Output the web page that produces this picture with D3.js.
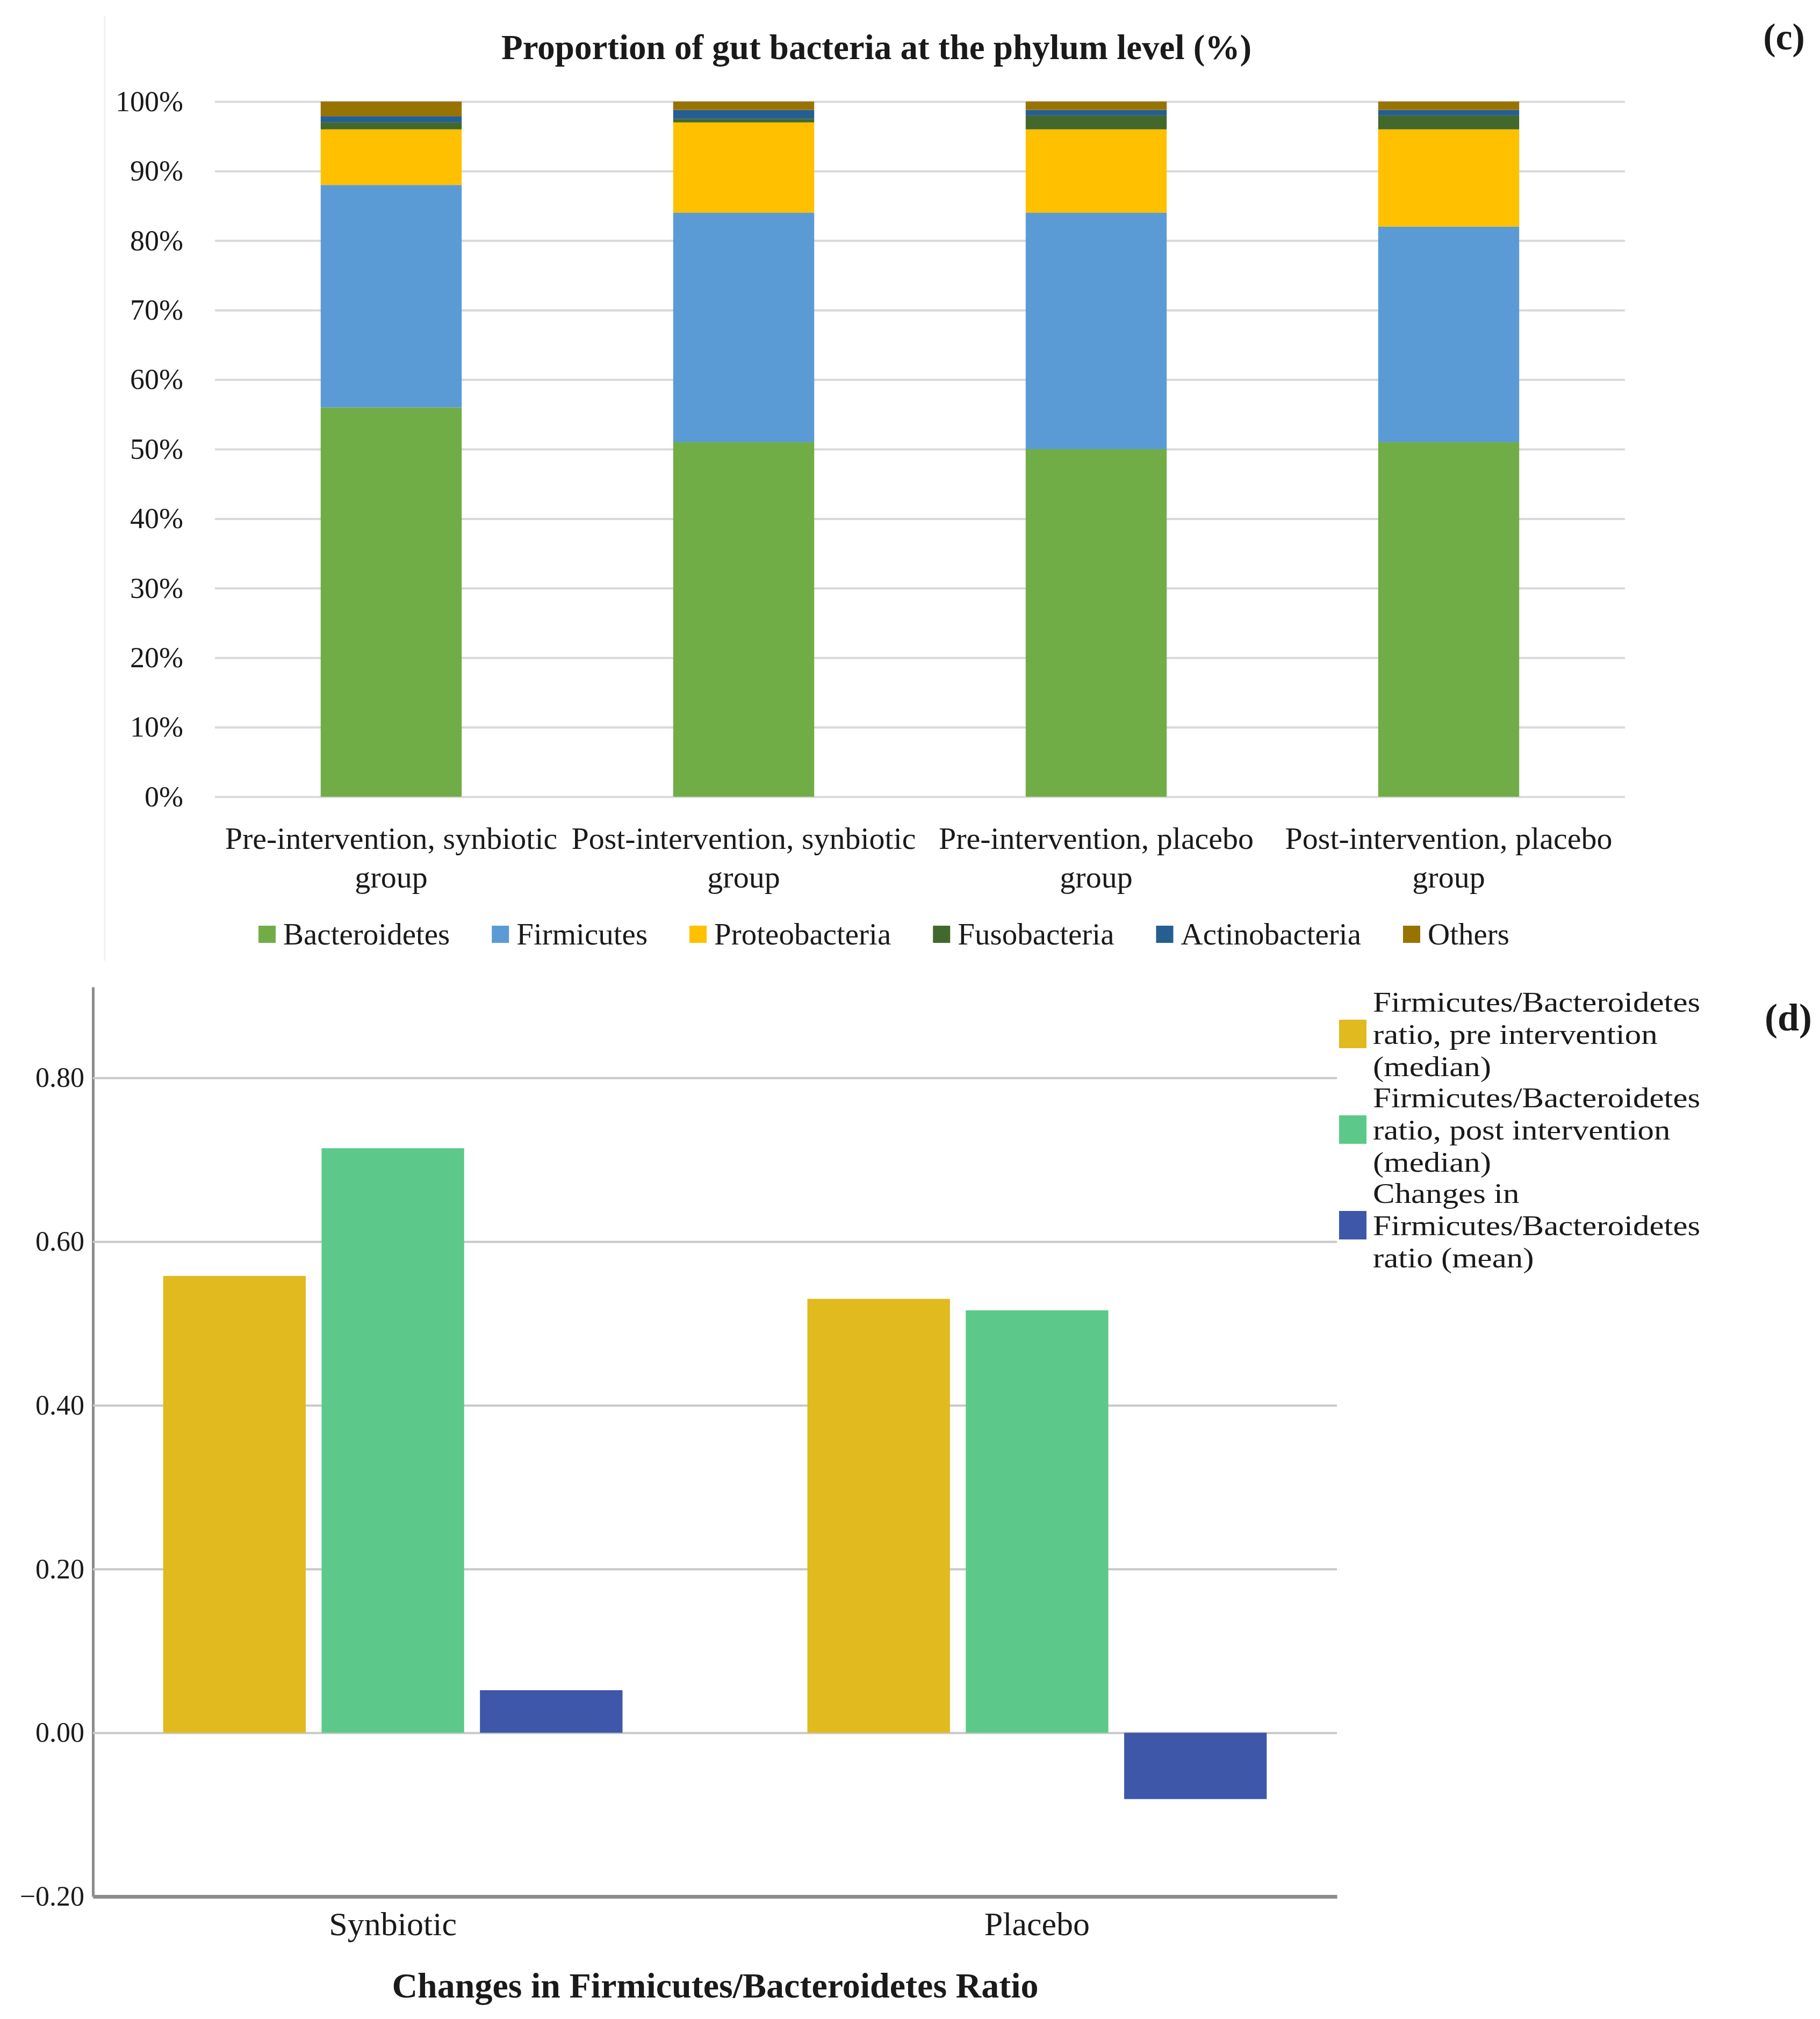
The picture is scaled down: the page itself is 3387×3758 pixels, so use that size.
<!DOCTYPE html>
<meta charset="utf-8">
<style>
body { margin: 0; background: #fff; }
text { font-family: "Liberation Serif", "Times New Roman", serif; fill: #1a1a1a; }
.grid line { stroke: #d9d9d9; stroke-width: 4; }
.grid path { display: none; }
.axis2 .tick line { stroke: #c8c8c8; stroke-width: 4; }
.axis2 path { stroke: #8c8c8c; stroke-width: 5; }
</style>
<svg></svg>
<script src="https://cdn.jsdelivr.net/npm/d3@7"></script>
<script>
// ---- panel (c) data
var groups = ["Pre-intervention, synbiotic group", "Post-intervention, synbiotic group",
              "Pre-intervention, placebo group", "Post-intervention, placebo group"];
var phyla = ["Bacteroidetes", "Firmicutes", "Proteobacteria", "Fusobacteria", "Actinobacteria", "Others"];
var bacteroidetes  = [56, 51, 50, 51];
var firmicutes     = [32, 33, 34, 31];
var proteobacteria = [8, 13, 12, 14];
var fusobacteria   = [1.0, 0.5, 2.0, 2.0];
var actinobacteria = [0.9, 1.3, 0.8, 0.8];
var others         = [2.1, 1.2, 1.2, 1.2];
var percentTicks   = [0, 10, 20, 30, 40, 50, 60, 70, 80, 90, 100];

// ---- panel (d) data
var ratioGroups = ["Synbiotic", "Placebo"];
var ratioSeries = [
  ["Firmicutes/Bacteroidetes", "ratio, pre intervention", "(median)"],
  ["Firmicutes/Bacteroidetes", "ratio, post intervention", "(median)"],
  ["Changes in", "Firmicutes/Bacteroidetes", "ratio (mean)"]
];
var preMedian  = [0.558, 0.530];
var postMedian = [0.714, 0.516];
var meanChange = [0.052, -0.081];
var ratioTicks = [-0.2, 0, 0.2, 0.4, 0.6, 0.8];

var phylaColors = ["#70ad47", "#5b9bd5", "#ffc000", "#43682b", "#255e91", "#997300"];
var ratioColors = ["#e0ba1e", "#5cc98a", "#3e57a9"];

var W = 3387, H = 3758;
var svg = d3.select("svg").attr("width", W).attr("height", H);

// ================= (c) stacked percent bars
var phylaValues = [bacteroidetes, firmicutes, proteobacteria, fusobacteria, actinobacteria, others];
var rows = groups.map(function(g, i) {
  var r = {group: g};
  phyla.forEach(function(p, j) { r[p] = phylaValues[j][i]; });
  return r;
});
var stacked = d3.stack().keys(phyla)(rows);

var c = {left: 400, right: 3024, top: 189, bottom: 1483};
var x = d3.scaleBand().domain(groups).range([c.left, c.right]).paddingInner(0.6).paddingOuter(0.3);
var y = d3.scaleLinear().domain([0, 100]).range([c.bottom, c.top]);

// faint chart-area edge
svg.append("line").attr("x1", 195).attr("x2", 195).attr("y1", 30).attr("y2", 1788)
    .attr("stroke", "#f0f0f0").attr("stroke-width", 3);

svg.append("g")
    .attr("class", "grid")
    .attr("transform", "translate(" + c.left + ",0)")
    .call(d3.axisLeft(y).tickValues(percentTicks).tickFormat(function(d) { return d + "%"; })
      .tickSize(-(c.right - c.left)).tickPadding(59))
    .selectAll("text").style("font-size", "54px").style("font-family", "Liberation Serif");

svg.append("g").selectAll("g")
  .data(stacked)
  .enter().append("g")
    .attr("fill", function(d, i) { return phylaColors[i]; })
  .selectAll("rect")
  .data(function(d) { return d; })
  .enter().append("rect")
    .attr("x", function(d) { return x(d.data.group); })
    .attr("y", function(d) { return y(d[1]); })
    .attr("width", x.bandwidth())
    .attr("height", function(d) { return y(d[0]) - y(d[1]); });

var catLabels = svg.append("g").selectAll("text")
  .data(groups)
  .enter().append("text")
    .attr("text-anchor", "middle")
    .style("font-size", "58px");
catLabels.each(function(g) {
  var cut = g.lastIndexOf(" ");
  var t = d3.select(this);
  var cx = x(g) + x.bandwidth() / 2;
  t.append("tspan").attr("x", cx).attr("y", 1580).text(g.slice(0, cut));
  t.append("tspan").attr("x", cx).attr("y", 1652).text(g.slice(cut + 1));
});

svg.append("text")
    .attr("x", 1631).attr("y", 110)
    .attr("text-anchor", "middle")
    .style("font-size", "65px").style("font-weight", "bold")
    .text("Proportion of gut bacteria at the phylum level (%)");

svg.append("text")
    .attr("x", 3320).attr("y", 92)
    .attr("text-anchor", "middle")
    .style("font-size", "70px").style("font-weight", "bold")
    .text("(c)");

// legend for (c), laid out from measured text widths
var leg = svg.append("g");
var items = leg.selectAll("g").data(phyla).enter().append("g");
items.append("rect").attr("width", 32).attr("height", 32).attr("y", -16)
    .attr("fill", function(d, i) { return phylaColors[i]; });
items.append("text").attr("x", 46).attr("dy", "0.33em")
    .style("font-size", "57px").text(function(d) { return d; });
var lx = 0;
items.each(function() {
  var w = 46 + d3.select(this).select("text").node().getComputedTextLength();
  d3.select(this).attr("transform", "translate(" + lx + ",0)");
  lx += w + 78;
});
lx -= 78;
leg.attr("transform", "translate(" + (1645 - lx / 2) + ",1739)");

// ================= (d) grouped bars
var d = {left: 173, right: 2488, top: 1837, bottom: 3530};
var ratioValues = [preMedian, postMedian, meanChange];
var x0 = d3.scaleBand().domain(ratioGroups).range([d.left, d.right]).paddingInner(0.287).paddingOuter(0.109);
var x1 = d3.scaleBand().domain(d3.range(ratioSeries.length)).range([0, x0.bandwidth()]).paddingInner(0.1);
var y2 = d3.scaleLinear().domain([-0.2, 0.911]).range([d.bottom, d.top]);

var yAx = svg.append("g")
    .attr("class", "axis2")
    .attr("transform", "translate(" + d.left + ",0)")
    .call(d3.axisLeft(y2).tickValues(ratioTicks).tickFormat(d3.format(".2f"))
      .tickSize(-(d.right - d.left)).tickSizeOuter(0).tickPadding(16));
yAx.selectAll("text").style("font-size", "52px").style("font-family", "Liberation Serif");

svg.append("g").selectAll("g")
  .data(ratioGroups)
  .enter().append("g")
    .attr("transform", function(g) { return "translate(" + x0(g) + ",0)"; })
  .selectAll("rect")
  .data(function(g, gi) { return ratioValues.map(function(v, si) { return {s: si, v: v[gi]}; }); })
  .enter().append("rect")
    .attr("x", function(e) { return x1(e.s); })
    .attr("y", function(e) { return y2(Math.max(0, e.v)); })
    .attr("width", x1.bandwidth())
    .attr("height", function(e) { return Math.abs(y2(e.v) - y2(0)); })
    .attr("fill", function(e) { return ratioColors[e.s]; });

var xAx = svg.append("g")
    .attr("transform", "translate(0," + d.bottom + ")")
    .call(d3.axisBottom(x0).tickSize(0).tickSizeOuter(0).tickPadding(28));
xAx.select(".domain").attr("stroke", "#8c8c8c").attr("stroke-width", 7);
xAx.selectAll("text").style("font-size", "62px").style("font-family", "Liberation Serif");

svg.append("text")
    .attr("x", 1331).attr("y", 3718)
    .attr("text-anchor", "middle")
    .style("font-size", "66px").style("font-weight", "bold")
    .text("Changes in Firmicutes/Bacteroidetes Ratio");

svg.append("text")
    .attr("x", 3328).attr("y", 1918)
    .attr("text-anchor", "middle")
    .style("font-size", "72px").style("font-weight", "bold")
    .text("(d)");

// legend for (d): three-line entries, text widened slightly to match the wide serif
var leg2 = svg.append("g").attr("transform", "translate(2492,1883)")
  .selectAll("g").data(ratioSeries).enter().append("g")
    .attr("transform", function(s, i) { return "translate(0," + (i * 178) + ")"; });
leg2.append("rect").attr("y", 15).attr("width", 51).attr("height", 53)
    .attr("fill", function(s, i) { return ratioColors[i]; });
leg2.append("g").attr("transform", "translate(63,0) scale(1.15,1)")
  .selectAll("text").data(function(s) { return s; })
  .enter().append("text")
    .style("font-size", "53px")
    .attr("y", function(t, i) { return i * 60; })
    .text(function(t) { return t; });
</script>
